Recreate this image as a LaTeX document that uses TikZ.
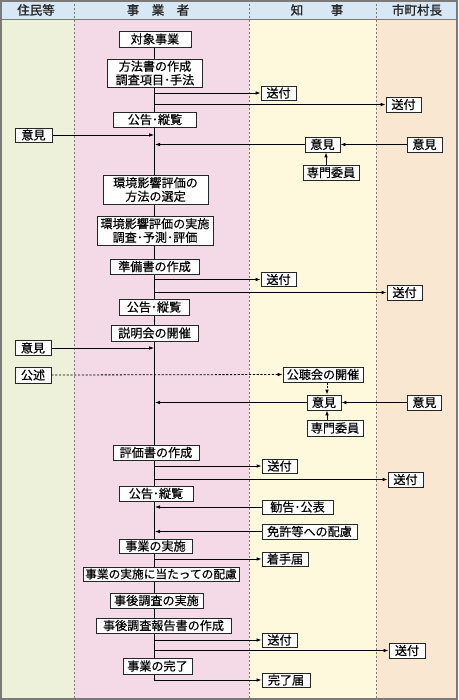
\documentclass[tikz,border=0pt]{standalone}
\usepackage{fontspec}
\setmainfont{Noto Sans CJK JP}[FakeBold=0.35]
\newfontfamily\hdrfont{Noto Sans CJK JP}[FakeBold=1.3]
\usetikzlibrary{arrows.meta}
\definecolor{cA}{HTML}{EEF1D9}
\definecolor{cB}{HTML}{F4DAE6}
\definecolor{cC}{HTML}{FEF9DC}
\definecolor{cD}{HTML}{FAE7D2}
\definecolor{cH}{HTML}{D7E7F4}
\definecolor{frame}{HTML}{7A7A7A}
\pgfdeclarelayer{bg}
\pgfdeclarelayer{lines}
\pgfsetlayers{bg,lines,main}
\begin{document}
\begin{tikzpicture}[x=1pt,y=-1pt,
  font=\fontsize{12.1}{13.6}\selectfont,
  box/.style={draw=black!85, line width=0.8pt, fill=white, inner sep=1pt, minimum height=15pt, align=center},
  hdr/.style={font=\hdrfont\fontsize{12.5}{13}\selectfont, text=black!85},
  arr/.style={line width=0.8pt, -{Latex[length=5pt,width=3.6pt]}},
  darr/.style={arr, dash pattern=on 2.2pt off 1.6pt},
  ln/.style={line width=0.8pt}]
\useasboundingbox (0,0) rectangle (458,700);
\begin{pgfonlayer}{bg}
\fill[cA] (0,0) rectangle (74,700);
\fill[cB] (74,0) rectangle (249,700);
\fill[cC] (249,0) rectangle (376,700);
\fill[cD] (376,0) rectangle (458,700);
\fill[cH] (0,0) rectangle (458,19);
\draw[frame, line width=0.8pt] (0,19.5) -- (458,19.5);
\draw[frame, line width=0.7pt, dash pattern=on 2pt off 2pt] (74.5,0) -- (74.5,700);
\draw[frame, line width=0.7pt, dash pattern=on 2pt off 2pt] (249.5,0) -- (249.5,700);
\draw[frame, line width=0.7pt, dash pattern=on 2pt off 2pt] (376.5,0) -- (376.5,700);
\draw[frame, line width=2pt] (1,1) rectangle (457,699);
\end{pgfonlayer}
% headers
\node[hdr] (h1) at (36,10) {住民等};
\node[hdr] (h2) at (158,10) {事\hspace{1em}業\hspace{1em}者};
\node[hdr] (h3) at (317,10) {知\hspace{2.2em}事};
\node[hdr] (h4) at (417,10) {市町村長};
\coordinate (spine) at (154,0);
% main flow
\node[box, minimum width=72pt, minimum height=16pt] (n1) at (155,39) {対象事業};
\node[box, minimum width=95pt, minimum height=28pt] (n2) at (155,73) {方法書の作成\\調査項目･手法};
\node[box, minimum width=35pt, minimum height=14pt] (s1) at (278.5,93) {送付};
\node[box, minimum width=35pt] (s2) at (403.5,104.5) {送付};
\node[box, minimum width=83pt] (n3) at (155,119.5) {公告･縦覧};
\node[box, minimum width=37pt, minimum height=14pt] (o1) at (33.5,135) {意見};
\node[box, minimum width=35pt] (o2) at (322.5,144.5) {意見};
\node[box, minimum width=35pt] (o3) at (424.5,144.5) {意見};
\node[box, minimum width=56pt] (e1) at (331,172.5) {専門委員};
\node[box, minimum width=105pt, minimum height=29pt] (n4) at (155.5,189.5) {環境影響評価の\\方法の選定};
\node[box, minimum width=116pt, minimum height=29pt] (n5) at (155,230.5) {環境影響評価の実施\\調査･予測･評価};
\node[box, minimum width=89pt] (n6) at (154.5,266.5) {準備書の作成};
\node[box, minimum width=35pt, minimum height=14pt] (s3) at (278.5,279.5) {送付};
\node[box, minimum width=35pt] (s4) at (404.5,292.5) {送付};
\node[box, minimum width=70pt, minimum height=16pt] (n7) at (154,307) {公告･縦覧};
\node[box, minimum width=87pt, minimum height=16pt] (n8) at (154.5,333) {説明会の開催};
\node[box, minimum width=36pt] (o4) at (33,348) {意見};
\node[box, minimum width=36pt, minimum height=16pt] (k1) at (33,375) {公述};
\node[box, minimum width=80pt] (k2) at (323,374.5) {公聴会の開催};
\node[box, minimum width=34pt] (o5) at (324,402.5) {意見};
\node[box, minimum width=34pt] (o6) at (424.5,402.5) {意見};
\node[box, minimum width=56pt, minimum height=16pt] (e2) at (335,428) {専門委員};
\node[box, minimum width=86pt] (n9) at (156,452.5) {評価書の作成};
\node[box, minimum width=35pt, minimum height=14pt] (s5) at (279.5,466) {送付};
\node[box, minimum width=35pt] (s6) at (405.5,479.5) {送付};
\node[box, minimum width=74pt] (n10) at (156,493.5) {公告･縦覧};
\node[box, minimum width=71pt, minimum height=14pt] (r1) at (297.5,507) {勧告･公表};
\node[box, minimum width=95pt] (r2) at (309.5,531.5) {免許等への配慮};
\node[box, minimum width=73pt, minimum height=14pt] (n11) at (155.5,546) {事業の実施};
\node[box, minimum width=46pt, minimum height=14pt] (c1) at (285,559) {着手届};
\node[box, minimum width=156pt, minimum height=14pt, inner sep=0pt, font=\fontsize{11.7}{13}\selectfont] (n12) at (161,574) {事業の実施に当たっての配慮};
\node[box, minimum width=93pt] (n13) at (156.5,600.5) {事後調査の実施};
\node[box, minimum width=135pt] (n14) at (163.5,625.5) {事後調査報告書の作成};
\node[box, minimum width=35pt, minimum height=14pt] (s7) at (279.5,640) {送付};
\node[box, minimum width=36pt] (s8) at (407,650.5) {送付};
\node[box, minimum width=69pt, minimum height=16pt] (n15) at (157.5,666) {事業の完了};
\node[box, minimum width=48pt, minimum height=14pt] (c2) at (286,680) {完了届};
% connectors
\begin{pgfonlayer}{lines}
\draw[arr] (n1.south -| spine) |- (c2.west);
\draw[arr] (spine |- s1.west) -- (s1.west);
\draw[arr] (spine |- s2.west) -- (s2.west);
\draw[arr] (o1.east) -- (o1.east -| spine);
\draw[arr] (o2.west) -- ([xshift=1pt]o2.west -| spine);
\draw[arr] (o3.west) -- (o2.east);
\draw[arr] (e1.north -| 326,0) -- (o2.south -| 326,0);
\draw[arr] (spine |- s3.west) -- (s3.west);
\draw[arr] (spine |- s4.west) -- (s4.west);
\draw[arr] (o4.east) -- (o4.east -| spine);
\draw[darr] (k1.east) -- (k2.west);
\draw[darr] (k2.south -| 327,0) -- (o5.north -| 327,0);
\draw[arr] (o5.west) -- ([xshift=1pt]o5.west -| spine);
\draw[arr] (o6.west) -- (o5.east);
\draw[arr] (e2.north -| 327,0) -- (o5.south -| 327,0);
\draw[arr] (spine |- s5.west) -- (s5.west);
\draw[arr] (spine |- s6.west) -- (s6.west);
\draw[arr] (r1.west) -- ([xshift=1pt]r1.west -| spine);
\draw[arr] (r2.west) -- ([xshift=1pt]r2.west -| spine);
\draw[arr] (spine |- c1.west) -- (c1.west);
\draw[arr] (spine |- s7.west) -- (s7.west);
\draw[arr] (spine |- s8.west) -- (s8.west);
\end{pgfonlayer}
\end{tikzpicture}
\end{document}
